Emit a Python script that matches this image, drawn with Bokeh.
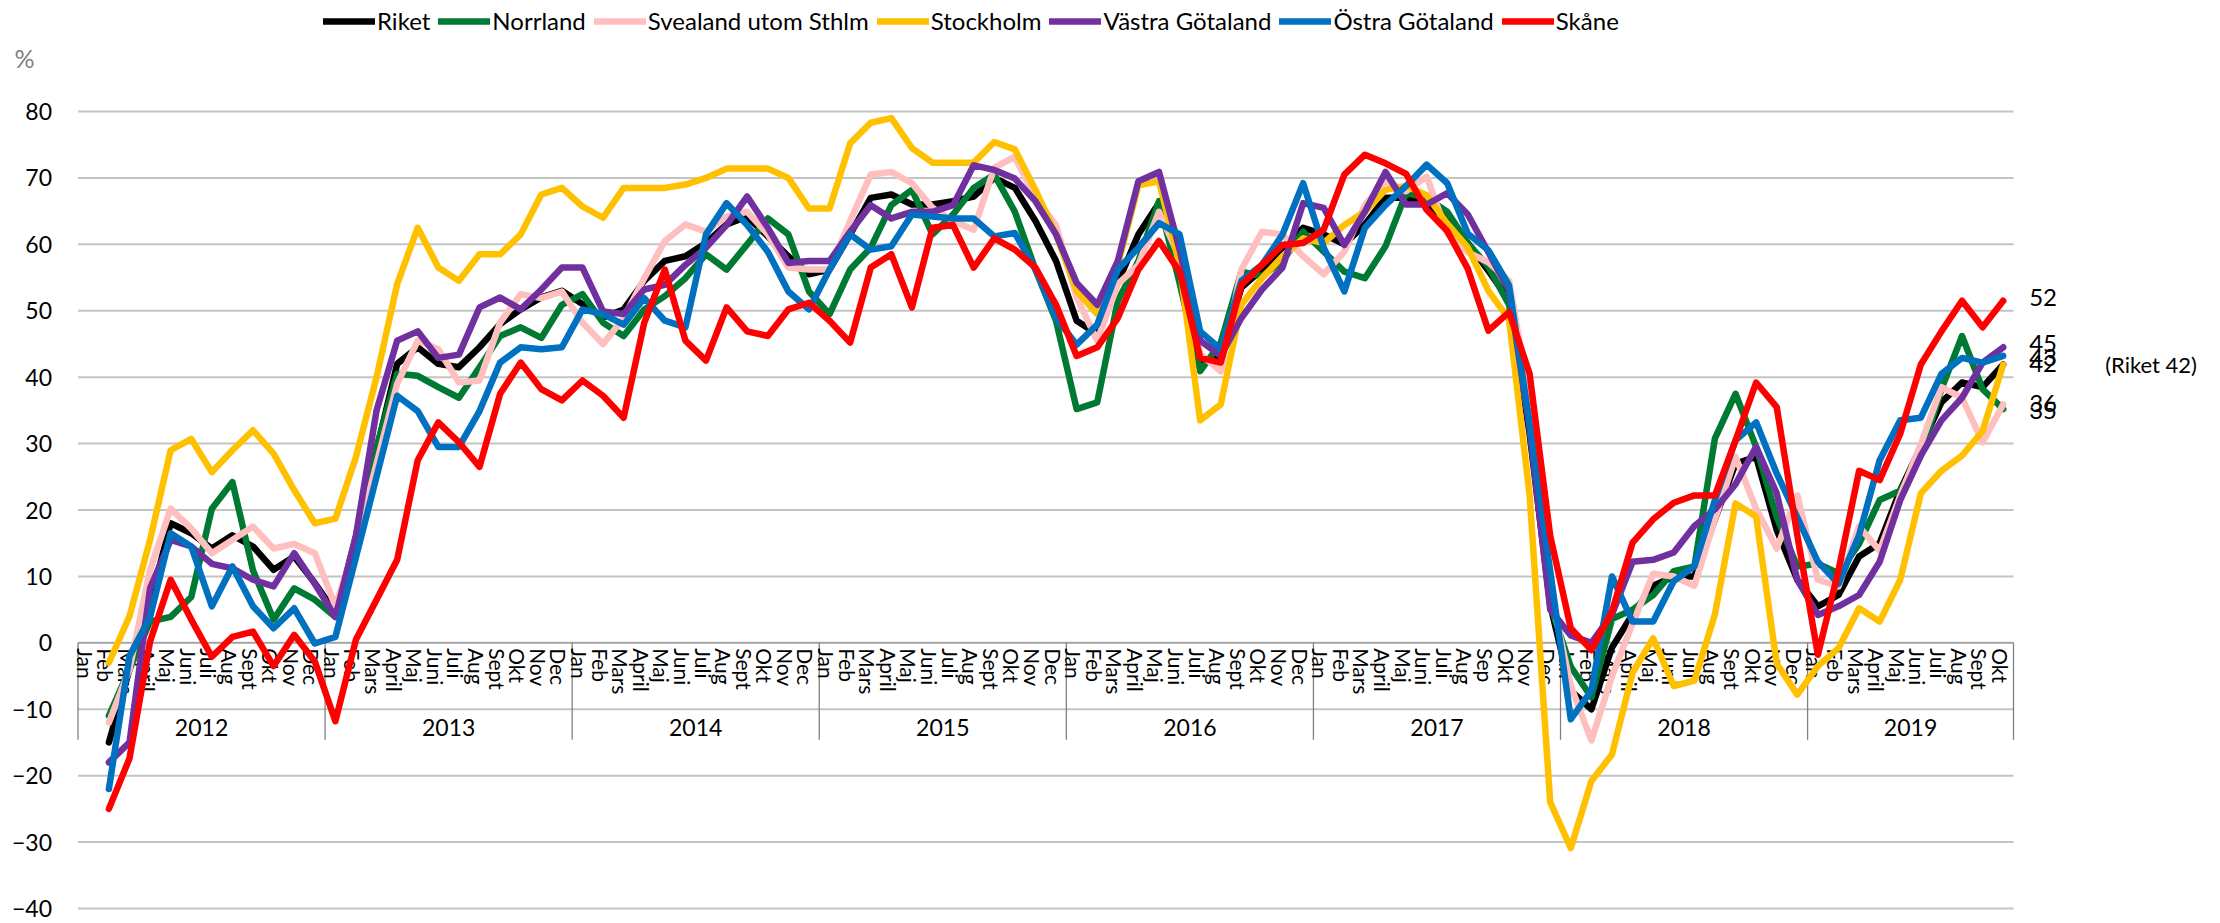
import numpy as np
from bokeh.plotting import figure
from bokeh.models import (Range1d, FixedTicker, Legend, LegendItem, Label,
                          LabelSet, ColumnDataSource)
from bokeh.embed import file_html
from bokeh.resources import INLINE
from bokeh.core.properties import value

NaN = float("nan")

# ---------------- data ----------------
years = ["2012", "2013", "2014", "2015", "2016", "2017", "2018", "2019"]
year_lengths = [12, 12, 12, 12, 12, 12, 12, 10]
months_std = ["Jan", "Feb", "Mars", "April", "Maj", "Juni", "Juli", "Aug",
              "Sept", "Okt", "Nov", "Dec"]
months_2017 = ["Jan", "Feb", "Mars", "April", "Maj", "Juni", "Juli", "Aug",
               "Sep", "Okt", "Nov", "Dec"]
month_labels = (months_std * 5 + months_2017 + months_std + months_std[:10])

riket = [NaN, -15, -4, 6, 18, 16.5, 14.2, 16.2, 14.5, 11, 13, 9,
         4.5, 15, 29, 42, 44.5, 42, 41.5, 44.5, 48, 50.2, 52, 53,
         51, 49, 50.2, 54.5, 57.5, 58.2, 60.2, 63, 64.2, 61.2, 58.2, 55.5,
         56.2, 61.5, 67, 67.5, 66, 66, 66.5, 67.2, 70, 68.5, 63.5, 57.5,
         48.5, 46.5, 54.2, 61.5, 66.2, 57.5, 42.2, 43, 53.5, 56.2, 59.5, 62.5,
         61.5, 60, 63, 67, 67, 66, 63.8, 60.2, 56, 51.6, 31.5, 5.7,
         -7.2, -10, -0.7, 4.3, 8.6, 10, 10, 18.6, 27, 28, 17, 9.5,
         5.5, 7.2, 13, 15, 23, 29.5, 36.2, 39.2, 38.5, 41.9]

norrland = [NaN, -11, -4, 3.2, 3.9, 6.9, 20.2, 24.2, 10.9, 3.5, 8.2, 6.5,
            3.9, 16, 29.5, 40.5, 40.2, 38.5, 36.9, 41.5, 46.2, 47.5, 45.9, 50.9,
            52.5, 48.2, 46.2, 50.2, 52.2, 54.9, 58.5, 56.2, 60, 63.9, 61.5, 52.9,
            49.5, 56.2, 59.5, 65.9, 68.2, 61.5, 64.5, 68.5, 70.5, 64.9, 56.2, 48.5,
            35.2, 36.2, 51.5, 57.5, 66.5, 54.2, 40.9, 45.2, 55.9, 55.2, 57.5, 61.9,
            58.9, 55.9, 54.9, 59.7, 67.7, 67, 64.9, 60.2, 56.6, 50.9, 33, 5.7,
            -3.6, -8.2, 3.6, 5, 7.2, 10.8, 11.5, 30.8, 37.5, 29.5, 18.9, 11.5,
            11.9, 10.5, 14.9, 21.5, 22.9, 28.2, 38.2, 46.2, 38.2, 35.2]

svealand = [NaN, -12, -4, 11, 20.2, 17.2, 13.5, 15.5, 17.5, 14.2, 14.9, 13.5,
            5.5, 15, 27, 39, 45.5, 44.2, 39.2, 39.5, 48.2, 52.5, 51.9, 52.9,
            48.2, 45, 48.9, 54.9, 60.5, 63, 61.9, 64.2, 64.9, 61.5, 56.5, 56.2,
            56.2, 63.5, 70.5, 70.9, 69.2, 65.5, 63.5, 62.2, 71.5, 73.2, 66.9, 62.9,
            52, 45.5, 54, 56.9, 64.9, 58, 43.5, 40.9, 56.2, 61.9, 61.5, 58.2,
            55.5, 58.9, 65.9, 69.5, 68, 70.2, 61.6, 58.8, 57.3, 54.5, 36.6, 7.9,
            -6.5, -14.7, -5, 2.9, 10.4, 10, 8.6, 18.6, 28, 20.2, 14.2, 22.2,
            9.5, 8.5, 17.5, 13.9, 22.2, 29.9, 38.5, 36.9, 30.2, 35.9]

stockholm = [NaN, -3, 4, 15.5, 29, 30.7, 25.7, 29, 32, 28.5, 23, 18,
             18.7, 28, 40, 54, 62.5, 56.5, 54.5, 58.5, 58.5, 61.5, 67.5, 68.5,
             65.7, 64, 68.5, 68.5, 68.5, 69, 70, 71.4, 71.4, 71.4, 70, 65.4,
             65.4, 75.2, 78.3, 79, 74.5, 72.3, 72.3, 72.3, 75.4, 74.3, 68.2, 61.5,
             53, 49.5, 56.9, 68.9, 69.5, 56.9, 33.5, 35.9, 50.9, 54.9, 58.2, 60.9,
             60.2, 62.9, 64.9, 68.2, 68.8, 67.4, 63.1, 59.5, 53, 48.7, 22.2, -24,
             -30.9, -20.8, -16.8, -4.5, 0.7, -6.5, -5.7, 4.3, 21, 19, -3.1, -7.8,
             -3.5, -0.8, 5.2, 3.2, 9.5, 22.5, 25.9, 28.2, 31.9, 41.9]

vastra = [NaN, -18, -15, 8.2, 15.5, 14.5, 11.9, 11.2, 9.5, 8.5, 13.5, 8.9,
          3.9, 16.2, 35, 45.5, 46.9, 42.9, 43.4, 50.5, 52, 50.2, 53.2, 56.5,
          56.5, 49.9, 49.5, 53.2, 53.9, 56.9, 59.5, 62.9, 67.2, 62.5, 57.2, 57.5,
          57.5, 61.9, 65.9, 63.9, 64.9, 64.9, 65.9, 71.9, 71.2, 69.9, 66.5, 61.5,
          54.2, 50.9, 57.5, 69.5, 70.9, 59.2, 45.5, 43.2, 48.9, 53.2, 56.5, 66.2,
          65.5, 59.9, 64.9, 70.9, 66, 66, 67.7, 64.5, 58.8, 53, 32.3, 5,
          1.1, 0, 4.3, 12.2, 12.5, 13.6, 17.6, 20.1, 23.9, 29.5, 22.5, 9.5,
          4.2, 5.5, 7.2, 12.2, 21.5, 28.2, 33.5, 36.9, 42.2, 44.5]

ostra = [NaN, -22, -2, 3.9, 16.5, 14.5, 5.5, 11.5, 5.5, 2.2, 5.2, -0.1,
         0.9, 12.9, 25, 37.2, 34.9, 29.5, 29.5, 34.9, 42.2, 44.5, 44.2, 44.5,
         50.2, 49.5, 47.9, 51.9, 48.5, 47.5, 61.5, 66.2, 62.9, 58.9, 52.9, 50.2,
         56.2, 61.5, 59.2, 59.7, 64.5, 64.2, 63.9, 63.9, 61.2, 61.7, 56.2, 48.9,
         44.9, 47.9, 56.2, 59.5, 63.2, 61.5, 46.9, 44.2, 54.5, 56.9, 61.5, 69.2,
         59.5, 52.9, 62.5, 65.9, 68.8, 72, 69.2, 61.6, 59.1, 53.8, 33, 10.8,
         -11.5, -7.2, 10, 3.2, 3.2, 9.3, 11.5, 21.5, 30.5, 33.2, 25.5, 18.9,
         12.2, 8.9, 16.2, 27.5, 33.5, 33.9, 40.5, 42.9, 42.2, 43.2]

skane = [NaN, -25, -17.4, 0.2, 9.5, 3.5, -2.1, 0.9, 1.7, -3.5, 1.2, -2.8,
         -11.8, 0.5, 6.5, 12.5, 27.5, 33.2, 30.2, 26.5, 37.5, 42.2, 38.2, 36.5,
         39.5, 37.2, 33.9, 48.2, 56.2, 45.5, 42.5, 50.5, 46.9, 46.2, 50.2, 51.2,
         48.5, 45.2, 56.5, 58.5, 50.5, 62.5, 62.9, 56.5, 60.9, 59.2, 56.5, 50.9,
         43.2, 44.5, 48.9, 56.2, 60.5, 55.9, 42.9, 42.2, 53.9, 56.9, 59.9, 60.2,
         62.2, 70.5, 73.5, 72.2, 70.6, 65.2, 62, 56.3, 47, 49.8, 40.5, 16.1,
         2.2, -1.1, 4.7, 15.1, 18.6, 21.1, 22.2, 22.2, 30.5, 39.2, 35.5, 16.2,
         -1.8, 10.9, 25.9, 24.5, 31.5, 41.9, 46.9, 51.5, 47.5, 51.5]

series_names = ["Riket", "Norrland", "Svealand utom Sthlm", "Stockholm",
                "Västra Götaland", "Östra Götaland", "Skåne"]
series_values = [riket, norrland, svealand, stockholm, vastra, ostra, skane]
series_colors = ["#000000", "#007A33", "#FFBFBF", "#FFC000", "#7030A0",
                 "#0070C0", "#FF0000"]

end_texts = ["52", "45", "43", "42", "36", "35"]
end_levels = [52, 45, 43, 42, 36, 35]
riket_note = "(Riket 42)"
y_ticks = list(range(-40, 90, 10))

# ---------------- figure ----------------
FONT = "Lato"
W, H = 2220, 923
n = len(month_labels)
xs = [i + 0.5 for i in range(n)]
left_px = 77.5                 # pixel where the month axis starts
cat_w = (2013 - left_px) / n   # pixels per month
x0 = -left_px / cat_w          # frame spans the whole canvas
top_px, bot_px = 111, 908      # pixel rows of the 80 and -40 gridlines
ppu = (bot_px - top_px) / 120.0
y_top = 80 + top_px / ppu
y_bot = -40 - (H - bot_px) / ppu

p = figure(width=W, height=H, output_backend="svg", toolbar_location=None,
           x_range=Range1d(x0, x0 + W / cat_w), y_range=Range1d(y_bot, y_top),
           x_axis_location=None, min_border_left=0, min_border_right=0,
           min_border_top=0, min_border_bottom=0)
p.outline_line_color = None
p.background_fill_color = "white"
p.xgrid.visible = False
p.ygrid.visible = False

ax = p.yaxis[0]
ax.fixed_location = 0
ax.ticker = FixedTicker(ticks=y_ticks)
ax.axis_line_color = None
ax.major_tick_line_color = None
ax.minor_tick_line_color = None
ax.major_tick_out = 0
ax.major_tick_in = 0
ax.major_label_standoff = 26
ax.major_label_text_font = FONT
ax.major_label_text_font_size = "23px"
ax.major_label_text_color = "#000000"

# horizontal gridlines only across the data area
p.segment(x0=[0] * len(y_ticks), y0=y_ticks, x1=[n] * len(y_ticks), y1=y_ticks,
          line_color="#c4c4c4", line_width=2)

# category "axis" drawn at y = 0
bounds = [0]
for L in year_lengths:
    bounds.append(bounds[-1] + L)
year_centers = [(bounds[k] + bounds[k + 1]) / 2 for k in range(len(years))]

p.segment(x0=[0], y0=[0], x1=[n], y1=[0], line_color="#a0a0a0", line_width=1.5)
p.segment(x0=bounds, y0=[0] * len(bounds), x1=bounds, y1=[-14.6] * len(bounds),
          line_color="#808080", line_width=1.3)

msrc = ColumnDataSource(dict(x=xs, y=[-0.8] * n, text=month_labels))
p.text(x="x", y="y", text="text", source=msrc, angle=-np.pi / 2,
       text_align="left", text_baseline="middle", x_offset=-3,
       text_font=value(FONT), text_font_size="21px", text_color="#000000")

ysrc = ColumnDataSource(dict(x=year_centers, y=[-12.8] * len(years), text=years))
p.text(x="x", y="y", text="text", source=ysrc, text_align="center",
       text_baseline="middle", text_font=value(FONT), text_font_size="23px",
       text_color="#000000")

renderers = []
for name, vals, col in zip(series_names, series_values, series_colors):
    r = p.line(xs, np.array(vals, dtype=float), line_color=col, line_width=6.5,
               line_join="round", line_cap="round")
    renderers.append(r)

legend = Legend(items=[LegendItem(label=nm, renderers=[r])
                       for nm, r in zip(series_names, renderers)],
                orientation="horizontal", location=(323, 888),
                glyph_width=52, glyph_height=24, label_height=24,
                label_standoff=2, spacing=8, padding=0, margin=0,
                label_text_font=FONT, label_text_font_size="24px",
                label_text_color="#000000", border_line_color=None,
                background_fill_alpha=0)
p.add_layout(legend)

p.add_layout(Label(x=-2.6, y=88, text="%", text_align="center",
                   text_baseline="middle", text_color="#7f7f7f",
                   text_font=FONT, text_font_size="25px"))

esrc = ColumnDataSource(dict(x=[xs[-1]] * len(end_texts), y=end_levels,
                             text=end_texts))
p.add_layout(LabelSet(x="x", y="y", text="text", source=esrc, x_offset=26,
                      text_baseline="middle", text_align="left",
                      text_font=value(FONT), text_font_size="24px",
                      text_color="#000000"))
p.add_layout(Label(x=xs[-1], y=riket[-1], text=riket_note, x_offset=102,
                   text_baseline="middle", text_align="left",
                   text_font=FONT, text_font_size="22px", text_color="#000000"))

open("out.html", "w").write(file_html(p, INLINE))
